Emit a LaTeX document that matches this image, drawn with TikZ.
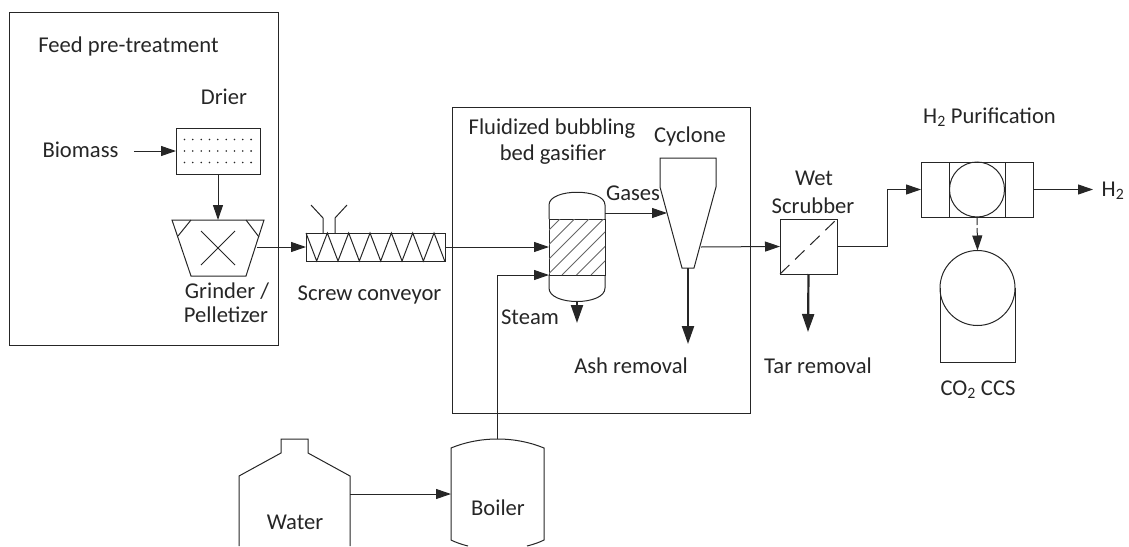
\documentclass[tikz,border=0pt]{standalone}
\usepackage{fontspec}
\setmainfont{Carlito}
\usetikzlibrary{arrows.meta}
\tikzset{
	txt/.style = {font=\fontsize{22.6}{26}\selectfont, inner sep=0pt},
	unit/.style = {rectangle, draw, inner sep=0pt, outer sep=0pt},
	flow/.style = {-{Triangle[length=15pt,width=10pt]}},
	heavy/.style = {-{Triangle[length=18pt,width=12pt]}, line width=2.2pt},
}
\begin{document}
\begin{tikzpicture}[x=1pt, y=-1pt, line width=1pt, color={black!85}]
	\useasboundingbox (0,0) rectangle (1129,546);
	\draw (9,12) rectangle (278,345);
	\draw (452,107) rectangle (750,413);
	\node (feedlabel) at (128.5,46) [txt] {Feed pre-treatment};
	\node (drierlabel) at (224,97) [txt] {Drier};
	\node (biomass) at (80.5,150) [txt] {Biomass};
	\node (grinderlabel) at (227,291) [txt] {Grinder /};
	\node (pelletlabel) at (226,315) [txt] {Pelletizer};
	\node (screwlabel) at (369.5,295) [txt] {Screw conveyor};
	\node (bublabel) at (552,129) [txt] {Fluidized bubbling};
	\node (bedlabel) at (553,155) [txt] {bed gasifier};
	\node (cyclonelabel) at (690,136) [txt] {Cyclone};
	\node (gaseslabel) at (633,193) [txt] {Gases};
	\node (steamlabel) at (530,317) [txt] {Steam};
	\node (ashlabel) at (631,366) [txt] {Ash removal};
	\node (tarlabel) at (818,366) [txt] {Tar removal};
	\node (wetlabel) at (814,178) [txt] {Wet};
	\node (scrublabel) at (813,206) [txt] {Scrubber};
	\node (purlabel) at (989.5,117) [txt] {H\textsubscript{2} Purification};
	\node (htwo) at (1113,191) [txt] {H\textsubscript{2}};
	\node (ccslabel) at (978,390) [txt] {CO\textsubscript{2} CCS};
	\node (waterlabel) at (295,522) [txt] {Water};
	\node (boilerlabel) at (498,508) [txt] {Boiler};

	\node (drier) at (218,151) [unit, minimum width=84pt, minimum height=46pt] {};
	\foreach \y in {139.5,151,162.5}
		\foreach \x in {0,...,8}
			\fill (184.5+8.33*\x,\y) circle (0.9pt);
	\draw (172,220) -- (264,220) -- (246,276) -- (191,276) -- cycle;
	\draw (191,220) -- (178,236);
	\draw (246,220) -- (259,237);
	\draw (201,231) -- (235,265);
	\draw (235,231) -- (201,265);
	\coordinate (grinderin) at (218,220);
	\coordinate (grinderout) at (257,247);

	\node (screw) at (375.5,247) [unit, minimum width=139pt, minimum height=28pt] {};
	\draw (306,233) \foreach \i in {1,...,13} { -- (306+10.67*\i,{247+14*cos(180*\i)*-1}) };
	\draw (311,205) -- (323,218) -- (323,233);
	\draw (347,205) -- (335,218) -- (335,233);

	\node (bed) at (577,247) [unit, minimum width=56pt, minimum height=56pt] {};
	\begin{scope}
		\clip (bed.south west) rectangle (bed.north east);
		\foreach \x in {560,574.5,...,660}
			\draw[line width=0.9pt, black!60] (\x,219) -- (\x-56,275);
	\end{scope}
	\draw (bed.north west) -- (549,205) .. controls (549,188) and (605,188) .. (605,205) -- (bed.north east);
	\draw (bed.south west) -- (549,288) .. controls (549,306) and (605,306) .. (605,288) -- (bed.south east);
	\coordinate (bedgas) at (605,213);
	\coordinate (bedash) at (577,301);
	\coordinate (ashend) at (577,323);

	\draw (660,158) -- (716,158) -- (716,187) -- (694,268) -- (682,268) -- (660,187) -- cycle;
	\coordinate (cyclonein) at (667,213);
	\coordinate (cycloneout) at (701,247);
	\coordinate (cyclonebot) at (688,268);
	\coordinate (cycloneend) at (688,344);

	\node (scrub) at (808.5,246.5) [unit, minimum width=57pt, minimum height=55pt] {};
	\draw[dash pattern=on 13pt off 8pt] (scrub.south west) -- (scrub.north east);
	\coordinate (tarend) at (808,332);

	\node (pur) at (977,189.5) [unit, minimum width=112pt, minimum height=55pt] {};
	\node (purmid) at (977,189.5) [unit, minimum width=56pt, minimum height=55pt] {};
	\node (purball) at (977,189.5) [unit, circle, minimum size=55pt] {};
	\coordinate (hout) at (1093,189.5);

	\node (tank) at (977.5,288) [unit, circle, minimum size=75pt] {};
	\draw (tank.west) -- (940,362) -- (1015,362) -- (tank.east);

	\draw (239,546) -- (239,476) -- (281,453) -- (281,439) -- (308,439) -- (308,453) -- (350,476) -- (350,546);
	\coordinate (waterout) at (350,494);
	\draw (468,546) .. controls (460,544) and (455,542) .. (451,540) -- (451,448) .. controls (480,436) and (515,436) .. (544,448) -- (544,540) .. controls (540,542) and (535,544) .. (527,546);
	\coordinate (boilerin) at (451,494);
	\coordinate (boilertop) at (497,439);

	\draw[flow] (biomass.east) ++(15,1) -- (drier.west);
	\draw[flow] (drier.south) -- (grinderin);
	\draw[flow] (grinderout) -- (screw.west);
	\draw[flow] (screw.east) -- (bed.west);
	\draw[flow] (bedgas) -- (cyclonein);
	\draw[flow] (cycloneout) -- (scrub.west);
	\draw[flow] (scrub.east) -- ++(50,0) |- (pur.west);
	\draw[flow] (pur.east) -- (hout);
	\draw[flow, dash pattern=on 8pt off 3pt] (pur.south) -- (tank.north);
	\draw[flow] (waterout) -- (boilerin);
	\draw[flow] (boilertop) |- (bed.south west);
	\draw[heavy] (bedash) -- (ashend);
	\draw[heavy] (cyclonebot) -- (cycloneend);
	\draw[heavy] (scrub.south) -- (tarend);
\end{tikzpicture}
\end{document}
